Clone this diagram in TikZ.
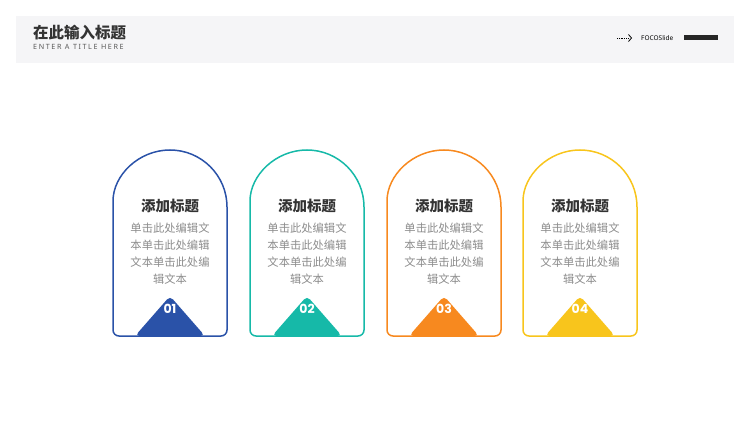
\documentclass[tikz,border=0pt]{standalone}
\usepackage{fontspec}
\setmainfont{Noto Sans}
\newfontfamily\cjk{Noto Sans CJK SC}
\newfontfamily\numfont{Poppins}[UprightFont=* Bold]
\usetikzlibrary{positioning}
\definecolor{headbg}{HTML}{F5F5F7}
\definecolor{cardA}{HTML}{2A52A8}
\definecolor{cardB}{HTML}{16B9A8}
\definecolor{cardC}{HTML}{F7891F}
\definecolor{cardD}{HTML}{F8C51C}
\definecolor{bodygray}{HTML}{8C8C8C}
\definecolor{titledark}{HTML}{333333}

\begin{document}
\begin{tikzpicture}[x=1pt,y=-1pt,
  cardtitle/.style={font=\cjk\bfseries\fontsize{14.5}{17}\selectfont,text=titledark,inner sep=0pt},
  cardbody/.style={font=\cjk\fontsize{11.3}{17}\selectfont,text=bodygray,align=center,inner sep=0pt},
  cardnum/.style={font=\numfont\fontsize{12.5}{13}\selectfont,text=white,inner sep=0pt}]
\useasboundingbox (0,0) rectangle (750,422);

% header
\fill [headbg] (16,16) rectangle (734,63);
\node [anchor=west,inner sep=0pt,font=\cjk\bfseries\fontsize{15.5}{18}\selectfont,text=titledark] (head) at (33,32.5) {在此输入标题};
\node [inner sep=0pt,font=\fontsize{7.2}{8}\selectfont\addfontfeatures{LetterSpace=22},text=black!65,below=4.5pt of head.south west,anchor=north west] (sub) {ENTER A TITLE HERE};
\draw [densely dotted,line width=0.8pt] (617,38) -- (628.5,38);
\draw [line width=0.8pt] (628.5,34.5) -- (631.5,38) -- (628.5,41.5);
\node [anchor=west,inner sep=0pt,font=\fontsize{6.5}{7}\selectfont] (brand) at (641,38) {FOCOSlide};
\fill [black!85] (684,35.5) rectangle (718,40.5);

% cards
\foreach \i/\cx/\col/\num in {1/170/cardA/01,2/307/cardB/02,3/444/cardC/03,4/580/cardD/04} {
  \fill [\col,rounded corners=4.5pt] (\cx-35,336) -- (\cx,296) -- (\cx+35,336) -- cycle;
  \draw [\col,line width=1.5pt] (\cx-57,207) arc [start angle=180,end angle=360,radius=57]
    [rounded corners=6pt] -- (\cx+57,336) -- (\cx-57,336) -- cycle;
  \node [cardtitle] (title\i) at (\cx,206) {添加标题};
  \node [cardbody,below=10pt of title\i] (body\i) {单击此处编辑文\\本单击此处编辑\\文本单击此处编\\辑文本};
  \node [cardnum] (num\i) at (\cx,309) {\num};
}
\end{tikzpicture}
\end{document}
